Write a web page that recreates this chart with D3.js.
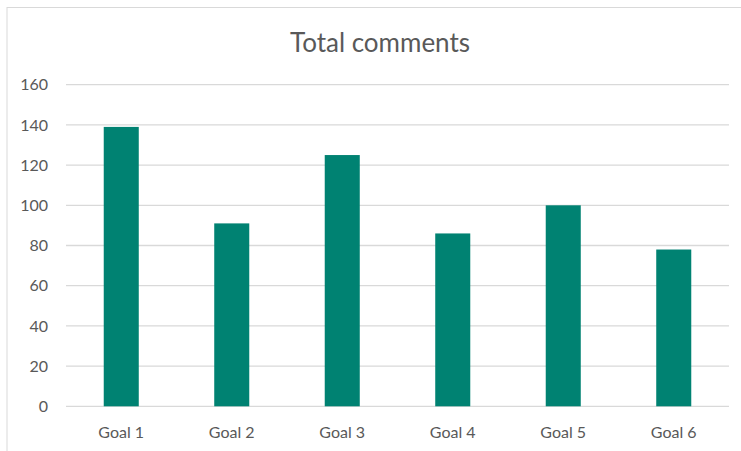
<!doctype html>
<html>
<head>
<meta charset="UTF-8">
<title>Total comments</title>
<script src="https://d3js.org/d3.v7.min.js"></script>
<style>
  body { margin: 0; background: #ffffff; }
  svg { display: block; }
</style>
</head>
<body>
<script>
// ---------------- data
var goals = ["Goal 1", "Goal 2", "Goal 3", "Goal 4", "Goal 5", "Goal 6"];
var comments = [139, 91, 125, 86, 100, 78];
var yTicks = [0, 20, 40, 60, 80, 100, 120, 140, 160];

// ---------------- colours
var bar_col = "#008272";
var grid_col = "#d9d9d9";
var text_col = "#595959";
var font = "Lato, 'Open Sans', sans-serif";

var W = 741, H = 451;
var margin = { top: 84.7, right: 12, bottom: 44.7, left: 66 };

var svg = d3.select("body").append("svg")
  .attr("width", W)
  .attr("height", H);

// chart frame (runs off the right and bottom edges)
svg.append("rect")
  .attr("x", 7).attr("y", 7.5)
  .attr("width", W + 10).attr("height", H + 10)
  .attr("fill", "#fff")
  .attr("stroke", grid_col)
  .attr("stroke-width", 1);

var x = d3.scaleBand()
  .domain(goals)
  .range([margin.left, W - margin.right])
  .paddingInner(0.683)
  .paddingOuter(0.683 / 2);

var y = d3.scaleLinear()
  .domain([0, 160])
  .range([H - margin.bottom, margin.top]);

// gridlines
svg.append("g")
  .selectAll("line")
  .data(yTicks)
  .join("line")
  .attr("x1", margin.left)
  .attr("x2", W - margin.right)
  .attr("y1", d => y(d))
  .attr("y2", d => y(d))
  .attr("stroke", grid_col)
  .attr("stroke-width", 1.3);

// y labels
var yAxis = svg.append("g")
  .attr("transform", "translate(" + (margin.left - 18) + ",0)")
  .call(d3.axisLeft(y).tickValues(yTicks).tickSize(0).tickPadding(0));
yAxis.select(".domain").remove();
yAxis.selectAll("text")
  .attr("fill", text_col)
  .style("font", "16px " + font);

// bars
svg.append("g")
  .selectAll("rect")
  .data(goals)
  .join("rect")
  .attr("x", d => x(d))
  .attr("width", x.bandwidth())
  .attr("y", (d, i) => y(comments[i]))
  .attr("height", (d, i) => y(0) - y(comments[i]))
  .attr("fill", bar_col);

// x labels
var xAxis = svg.append("g")
  .attr("transform", "translate(0," + y(0) + ")")
  .call(d3.axisBottom(x).tickSize(0).tickPadding(20));
xAxis.select(".domain").remove();
xAxis.selectAll("text")
  .attr("fill", text_col)
  .style("font", "16px " + font);

// title
svg.append("text")
  .attr("x", 380)
  .attr("y", 52)
  .attr("text-anchor", "middle")
  .attr("fill", text_col)
  .style("font", "26px " + font)
  .text("Total comments");
</script>
</body>
</html>
